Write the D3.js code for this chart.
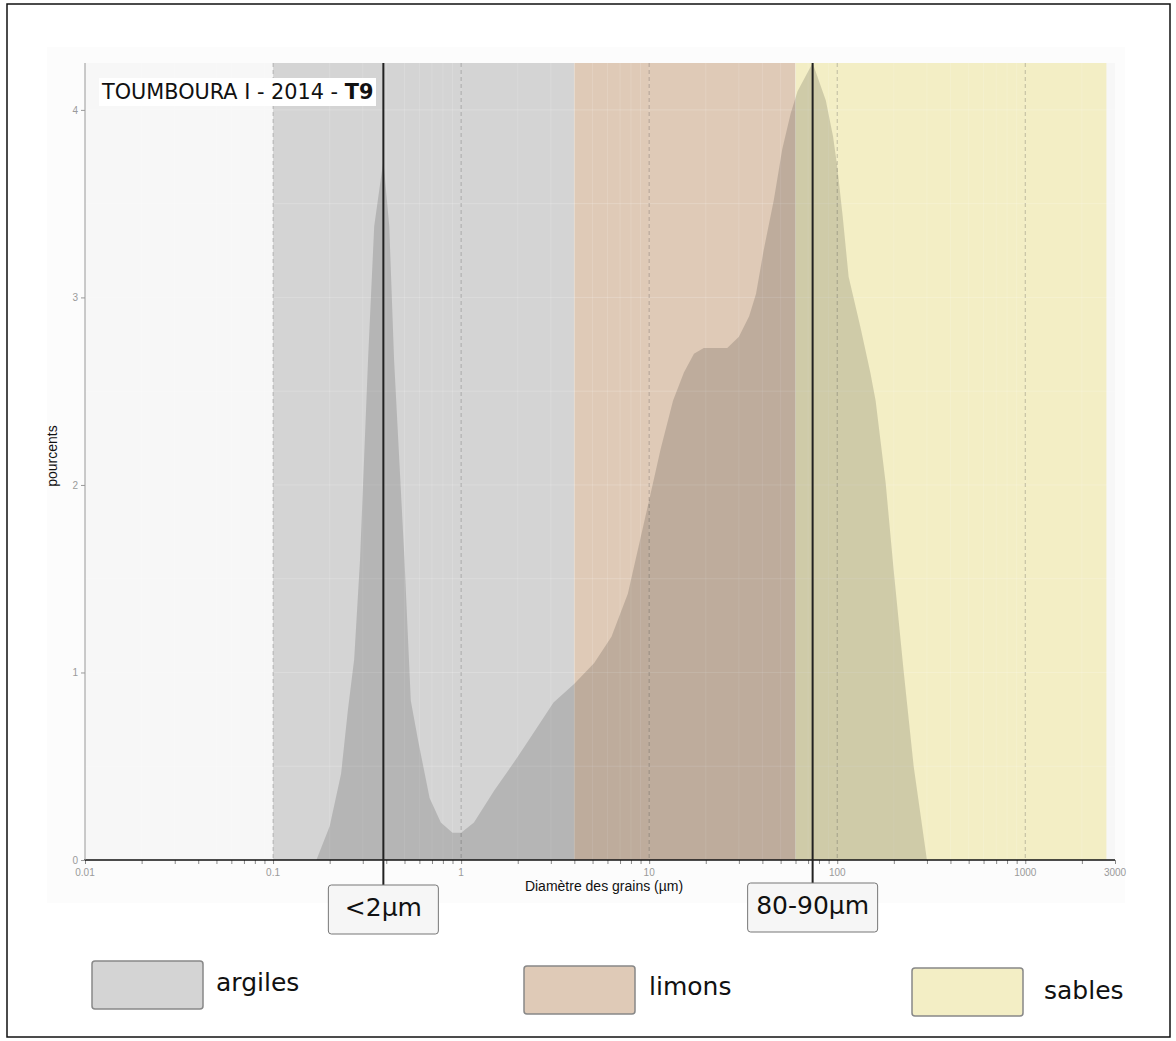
<!DOCTYPE html>
<html><head><meta charset="utf-8">
<script src="https://cdn.jsdelivr.net/npm/d3@7"></script>
<style>body{margin:0;background:#fff}svg{display:block}</style>
</head><body>
<svg id="c" width="1176" height="1041"></svg>
<script>
// ---- data ----
const diameters = [0.17,0.2,0.23,0.25,0.27,0.29,0.32,0.345,0.386,0.415,0.44,0.5,0.54,0.59,0.68,0.78,0.9,1.0,1.17,1.5,2.0,2.55,3.1,4.0,5.1,6.3,7.7,10,11.5,13.4,15.3,17.3,19.5,26,30,34,37,40.6,46,51,56.5,61.5,74,87,95,100,107,115,133,150,160,181,199,226,255,300];
const percents  = [0,0.18,0.46,0.8,1.07,1.6,2.67,3.38,3.73,3.38,2.67,1.6,0.85,0.64,0.33,0.2,0.145,0.145,0.2,0.37,0.55,0.71,0.84,0.94,1.05,1.19,1.42,1.92,2.19,2.45,2.6,2.7,2.73,2.73,2.79,2.9,3.02,3.25,3.52,3.79,3.98,4.1,4.25,4.05,3.86,3.7,3.43,3.11,2.84,2.6,2.45,2.01,1.56,1.0,0.5,0];
const bandNames  = ["argiles","limons","sables"];
const bandStart  = [0.1, 4, 60];
const bandEnd    = [4, 60, 2700];
const bandColors = ["#d4d4d4","#dfcab7","#f3eec5"];
const markerValues = [0.386, 74];
const markerLabels = ["<2µm","80-90µm"];
const xTickValues = [0.01,0.1,1,10,100,1000,3000];
const xTickLabels = ["0.01","0.1","1","10","100","1000","3000"];
const yTickValues = [0,1,2,3,4];

// ---- layout ----
const svg = d3.select("#c");
const L = 85, R = 1115, T = 63, B = 860;
const x = d3.scaleLog().domain([0.01,3000]).range([L,R]);
const y = d3.scaleLinear().domain([0,4.25]).range([B,T]);

// outer border
svg.append("rect").attr("x",7).attr("y",4).attr("width",1163).attr("height",1033)
  .attr("fill","#fff").attr("stroke","#111").attr("stroke-width",1.5);
// faint plot background
svg.append("rect").attr("x",47).attr("y",47).attr("width",1078).attr("height",856).attr("fill","#fcfcfc");
// panel
svg.append("rect").attr("x",L).attr("y",T).attr("width",x(3000)-L).attr("height",B-T).attr("fill","#f7f7f7");

// bands
bandNames.forEach((n,i)=>{
  svg.append("rect").attr("x",x(bandStart[i])).attr("y",T)
    .attr("width",x(bandEnd[i])-x(bandStart[i])).attr("height",B-T)
    .attr("fill",bandColors[i]);
});

// faint gridlines
const minorX = [];
for (let e=-2;e<=3;e++) for (let m=1;m<=9;m++){const v=m*Math.pow(10,e); if(v<=3000) minorX.push(v);}
svg.append("g").selectAll("line").data(minorX).join("line")
  .attr("x1",d=>x(d)).attr("x2",d=>x(d)).attr("y1",T).attr("y2",B)
  .attr("stroke","#fff").attr("stroke-opacity",0.15).attr("stroke-width",1);
svg.append("g").selectAll("line").data(d3.range(0,4.5,0.5)).join("line")
  .attr("x1",L).attr("x2",x(3000)).attr("y1",d=>y(d)).attr("y2",d=>y(d))
  .attr("stroke","#fff").attr("stroke-opacity",0.2).attr("stroke-width",1);

// area
const pts = diameters.map((d,i)=>({d, p:percents[i]}));
svg.append("path").datum(pts)
  .attr("d", d3.area().x(d=>x(d.d)).y0(B).y1(d=>y(d.p)))
  .attr("fill","#000").attr("fill-opacity",0.145);

// dashed decade lines
svg.append("g").selectAll("line").data([0.1,1,10,100,1000]).join("line")
  .attr("x1",d=>x(d)).attr("x2",d=>x(d)).attr("y1",T).attr("y2",B)
  .attr("stroke","#000").attr("stroke-opacity",0.22).attr("stroke-dasharray","4,3").attr("stroke-width",1);

// axes
const xAxisG = svg.append("g").attr("transform",`translate(0,${B})`);
xAxisG.call(d3.axisBottom(x).tickValues(minorX.concat([3000])).tickSize(4).tickFormat(""));
xAxisG.select(".domain").remove();
xAxisG.selectAll(".tick line").attr("stroke","#888");
xAxisG.append("line").attr("x1",L-1).attr("x2",x(3000)).attr("stroke","#111").attr("stroke-width",1.5);
xAxisG.selectAll(".lbl").data(xTickValues).join("text").attr("class","lbl")
  .attr("x",(d)=>x(d)).attr("y",16).attr("text-anchor","middle")
  .attr("font-family","Liberation Sans, Arial, sans-serif").attr("font-size",10).attr("fill","#9a9a9a")
  .text((d,i)=>xTickLabels[i]);

const yAxisG = svg.append("g").attr("transform",`translate(${L},0)`);
yAxisG.call(d3.axisLeft(y).tickValues(yTickValues).tickSize(4).tickPadding(3).tickFormat(d3.format("d")));
yAxisG.select(".domain").attr("d",`M0,${T}V${B}`).attr("stroke","#999");
yAxisG.selectAll(".tick line").attr("stroke","#999");
yAxisG.selectAll(".tick text").attr("fill","#9a9a9a").attr("font-size",10).attr("font-family","Liberation Sans, Arial, sans-serif");

svg.append("text").attr("x",604).attr("y",891).attr("text-anchor","middle")
  .attr("font-family","Liberation Sans, Arial, sans-serif").attr("font-size",14).attr("fill","#111")
  .text("Diamètre des grains (µm)");
svg.append("text").attr("transform",`translate(57,456) rotate(-90)`).attr("text-anchor","middle")
  .attr("font-family","Liberation Sans, Arial, sans-serif").attr("font-size",14).attr("fill","#111")
  .text("pourcents");

// title
svg.append("rect").attr("x",99).attr("y",78).attr("width",277).attr("height",28).attr("fill","#fff");
const title = svg.append("text").attr("x",102).attr("y",99)
  .attr("font-family","DejaVu Sans, sans-serif").attr("font-size",20.8).attr("fill","#111");
title.append("tspan").text("TOUMBOURA I - 2014 - ");
title.append("tspan").attr("font-weight","bold").text("T9");

// marker lines and labels
const boxW = [110,130];
const boxTop = [885,883];
markerValues.forEach((v,i)=>{
  svg.append("line").attr("x1",x(v)).attr("x2",x(v)).attr("y1",T).attr("y2",boxTop[i])
    .attr("stroke","#222").attr("stroke-width",2);
  svg.append("rect").attr("x",x(v)-boxW[i]/2).attr("y",boxTop[i]).attr("width",boxW[i]).attr("height",49)
    .attr("rx",3).attr("fill","#f6f6f6").attr("stroke","#777").attr("stroke-width",1);
  svg.append("text").attr("x",x(v)).attr("y",boxTop[i]+31).attr("text-anchor","middle")
    .attr("font-family","DejaVu Sans, sans-serif").attr("font-size",25).attr("fill","#111")
    .text(markerLabels[i]);
});

// legend
const legX = [92,524,912];
const legY = [961,966,968];
const legTextX = [216,649,1044];
const legBase = [991,995,999];
bandNames.forEach((n,i)=>{
  svg.append("rect").attr("x",legX[i]).attr("y",legY[i]).attr("width",111).attr("height",48)
    .attr("rx",3).attr("fill",bandColors[i]).attr("stroke","#888").attr("stroke-width",1.5);
  svg.append("text").attr("x",legTextX[i]).attr("y",legBase[i])
    .attr("font-family","DejaVu Sans, sans-serif").attr("font-size",25).attr("fill","#111").text(n);
});
</script>
</body></html>
